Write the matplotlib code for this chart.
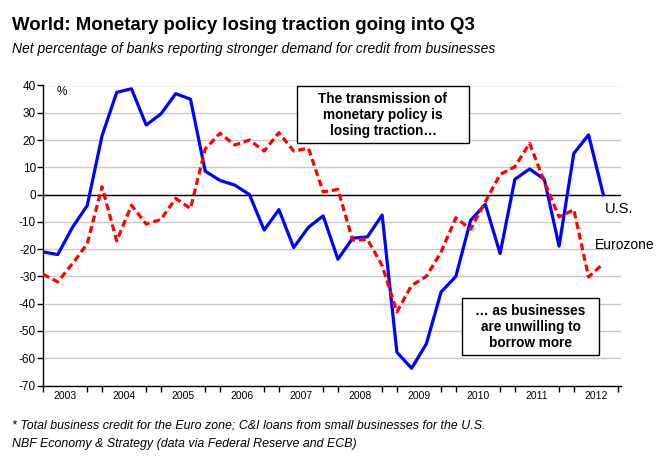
import numpy as np
import matplotlib
matplotlib.use("Agg")
import matplotlib.pyplot as plt
from matplotlib.patches import Rectangle

# quarterly survey readings, 2003 Q1 .. 2012 Q3
years = [2003, 2004, 2005, 2006, 2007, 2008, 2009, 2010, 2011, 2012]
us = [-21, -22, -12, -4, 21.5, 37.5, 38.8, 25.5, 29.6, 37, 35, 8.6, 5.2, 3.5, 0,
      -13, -5.5, -19.4, -12, -7.8, -23.7, -16, -15.5, -7.5, -57.8, -63.7, -54.7,
      -35.7, -30, -9.4, -3.6, -21.6, 5.6, 9.4, 5.6, -18.9, 15.1, 21.9, 0]
euro = [-29.2, -32, -25.3, -18, 2.9, -17, -3.9, -10.8, -9.1, -1.4, -5.1, 16.7,
        22.5, 18.2, 20, 16, 22.7, 16, 17, 1, 1.9, -16.7, -16.4, -26, -43, -33.3,
        -30, -21, -8.5, -12.7, -2.6, 7.4, 10.2, 18.8, 4.7, -8.2, -5.5, -30.2, -25.3]
yticks = list(range(-70, 41, 10))

W, H = 666, 465
plt.rcParams['font.family'] = ['Liberation Sans', 'DejaVu Sans']
plt.rcParams['axes.unicode_minus'] = False
fig = plt.figure(figsize=(W / 100, H / 100), dpi=100)

def px(x, y):
    return x / W, 1 - y / H

ax = fig.add_axes([43 / W, 1 - 385.5 / H, (621 - 43) / W, (385.5 - 85.5) / H])

q = np.arange(len(us))
ax.plot(q, us, color='#0000ff', lw=2.3, zorder=3)
ax.plot(q, euro, color='#ff0000', lw=2.3, ls=(0, (2.2, 1.2)), zorder=3)

ax.set_xlim(0, 39.2)
ax.set_ylim(-70, 40)
ax.set_yticks(yticks)
ax.yaxis.grid(True, color='#c8c8c8', lw=1)
ax.set_axisbelow(True)
ax.axhline(0, color='black', lw=1, zorder=2)

for s in ['top', 'right']:
    ax.spines[s].set_visible(False)
for s in ['left', 'bottom']:
    ax.spines[s].set_linewidth(1)

# year labels sit between the Q1 and Q4 marks
ax.set_xticks([4 * k + 1.5 for k in range(len(years))], [str(y) for y in years])
tick_marks = sorted([4 * k for k in range(len(years))] + [4 * k + 3 for k in range(len(years))])
ax.set_xticks(tick_marks, minor=True)
ax.tick_params(axis='x', which='major', length=0, labelsize=7.5, pad=4)
ax.tick_params(axis='x', which='minor', length=4, width=1)
ax.tick_params(axis='y', length=4, width=1, labelsize=8.5, pad=1)

fig.text(*px(62, 92), '%', fontsize=8.5, ha='center', va='center')

fig.text(*px(12, 30), 'World: Monetary policy losing traction going into Q3',
         fontsize=13.4, fontweight='bold', va='baseline')
fig.text(*px(12, 53), 'Net percentage of banks reporting stronger demand for credit from businesses',
         fontsize=10, style='italic', va='baseline')

# annotation boxes
for (x0, y0, x1, y1) in [(297, 86, 469, 143), (462, 298, 599, 355)]:
    fig.patches.append(Rectangle(px(x0, y1), (x1 - x0) / W, (y1 - y0) / H,
                                 transform=fig.transFigure, fc='white', ec='black', lw=1, zorder=5))
fig.text(*px(383, 115), 'The transmission of\nmonetary policy is\nlosing traction…',
         fontsize=9.8, fontweight='bold', ha='center', va='center', linespacing=1.15, zorder=6)
fig.text(*px(530.5, 327), '… as businesses\nare unwilling to\nborrow more',
         fontsize=9.8, fontweight='bold', ha='center', va='center', linespacing=1.15, zorder=6)

fig.text(*px(605, 213), 'U.S.', fontsize=10.5, va='baseline')
fig.text(*px(595, 249), 'Eurozone', fontsize=10, va='baseline')

fig.text(*px(12, 428), '* Total business credit for the Euro zone; C&I loans from small businesses for the U.S.',
         fontsize=8.9, style='italic', va='baseline')
fig.text(*px(12, 447), 'NBF Economy & Strategy (data via Federal Reserve and ECB)',
         fontsize=8.9, style='italic', va='baseline')

fig.savefig('out.png', dpi=100, facecolor='white')
